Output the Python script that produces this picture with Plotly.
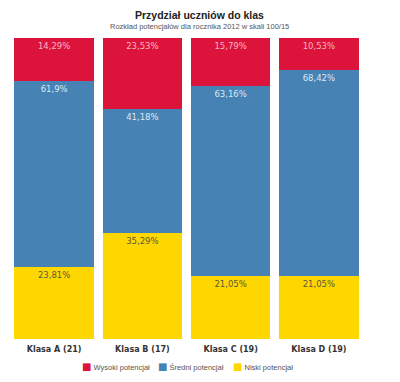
import plotly.graph_objects as go

categories = ["Klasa A (21)", "Klasa B (17)", "Klasa C (19)", "Klasa D (19)"]
series_names = ["Niski potencjał", "Średni potencjał", "Wysoki potencjał"]
niski = [23.81, 35.29, 21.05, 21.05]
sredni = [61.9, 41.18, 63.16, 68.42]
wysoki = [14.29, 23.53, 15.79, 10.53]
niski_labels = ["23,81%", "35,29%", "21,05%", "21,05%"]
sredni_labels = ["61,9%", "41,18%", "63,16%", "68,42%"]
wysoki_labels = ["14,29%", "23,53%", "15,79%", "10,53%"]
title_text = "Przydział uczniów do klas"
subtitle_text = "Rozkład potencjałów dla rocznika 2012 w skali 100/15"
legend_order = ["Wysoki potencjał", "Średni potencjał", "Niski potencjał"]

colors = {"Niski potencjał": "#FFD700", "Średni potencjał": "#4682B4", "Wysoki potencjał": "#DC143C"}
text_colors = {"Niski potencjał": "#5a5a3c", "Średni potencjał": "#dce8f4", "Wysoki potencjał": "#f9b4c2"}

W, H = 392, 374  # page body has 8px margin in the 400x382 window
L, R, T, B = 2, 37, 30, 43
PW, PH = W - L - R, H - T - B

fig = go.Figure()
for name, vals, labels in zip(series_names, [niski, sredni, wysoki],
                              [niski_labels, sredni_labels, wysoki_labels]):
    fig.add_trace(go.Bar(
        x=categories, y=vals, name=name, text=labels,
        textposition="inside", insidetextanchor="end",
        textfont=dict(family="DejaVu Sans", size=8.5, color=text_colors[name]),
        marker=dict(color=colors[name], line=dict(width=0)),
        hoverinfo="skip", showlegend=False,
    ))

def px_x(x):
    return (x - 8 - L) / PW

def px_y(y):
    return 1 - (y - 8 - T) / PH

annotations = [
    dict(text="<b>" + title_text + "</b>", x=px_x(200), xref="paper", xanchor="center",
         y=1 + T / PH, yref="paper", yanchor="top", showarrow=False, borderpad=0,
         font=dict(family="Liberation Sans", size=10.5, color="#222222")),
    dict(text=subtitle_text, x=px_x(199), xref="paper", xanchor="center",
         y=px_y(26.5), yref="paper", yanchor="middle", showarrow=False, borderpad=0,
         font=dict(family="Liberation Sans", size=7.5, color="#555555")),
]
legend_x = [80, 156, 231]
for name, lx in zip(legend_order, legend_x):
    annotations.append(dict(
        text="<span style='color:%s;font-family:DejaVu Sans;font-size:10px'>■</span> %s" % (colors[name], name),
        x=px_x(lx), xref="paper", xanchor="left",
        y=px_y(366), yref="paper", yanchor="middle", showarrow=False,
        font=dict(family="Liberation Sans", size=7.5, color="#555555")))

fig.update_layout(
    barmode="stack",
    bargap=0.1,
    width=W, height=H,
    margin=dict(l=L, r=R, t=T, b=B, autoexpand=False),
    paper_bgcolor="white", plot_bgcolor="white",
    showlegend=False,
    uniformtext=dict(minsize=6, mode="show"),
    xaxis=dict(showgrid=False, showline=False, ticks="", automargin=False,
               ticklabelstandoff=4,
               tickfont=dict(family="DejaVu Sans", size=8, color="#333333", weight="bold")),
    yaxis=dict(visible=False, range=[0, 100]),
    annotations=annotations,
)
fig.write_html("out.html")
